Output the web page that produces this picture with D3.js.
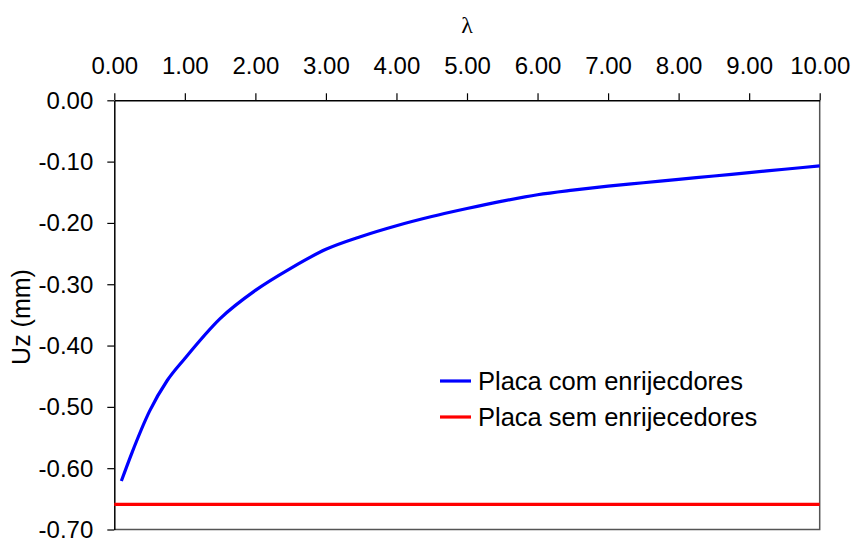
<!DOCTYPE html>
<html>
<head>
<meta charset="utf-8">
<script src="https://cdn.jsdelivr.net/npm/d3@7"></script>
<style>
  body { margin: 0; background: #fff; }
  svg text { font-family: "Liberation Sans", Arial, sans-serif; fill: #000; }
</style>
</head>
<body>
<div id="app"></div>
<script>
// dados
const lambdaVals = [0.1, 0.25, 0.5, 0.75, 1.0, 1.5, 2.0, 2.5, 3.0, 3.5, 4.0, 4.5, 5.0, 5.5, 6.0, 6.5, 7.0, 7.5, 8.0, 8.5, 9.0, 9.5, 10.0];
const uzCom = [-0.621, -0.575, -0.507, -0.457, -0.421, -0.356, -0.310, -0.274, -0.243, -0.222, -0.2045, -0.1895, -0.1765, -0.1645, -0.154, -0.1465, -0.140, -0.1345, -0.129, -0.1235, -0.118, -0.1125, -0.107];
const lambdaSem = [0, 10];
const uzSem = [-0.659, -0.659];
const xTicks = [0, 1, 2, 3, 4, 5, 6, 7, 8, 9, 10];
const yTicks = [0, -0.1, -0.2, -0.3, -0.4, -0.5, -0.6, -0.7];
const seriesNames = ["Placa com enrijecdores", "Placa sem enrijecedores"];
const seriesColors = ["#0000ff", "#ff0000"];

const width = 851, height = 539;
const margin = { top: 100.3, right: 31.3, bottom: 9.5, left: 114.3 };

const svg = d3.select("#app").append("svg")
    .attr("width", width)
    .attr("height", height);

const x = d3.scaleLinear().domain([0, 10]).range([margin.left, width - margin.right]);
const y = d3.scaleLinear().domain([-0.7, 0]).range([height - margin.bottom, margin.top]);

// borda direita e inferior (cinza)
svg.append("path")
    .attr("d", `M${x(10)},${y(0)}V${y(-0.7)}H${x(0)}`)
    .attr("fill", "none")
    .attr("stroke", "#555")
    .attr("stroke-width", 1.5);

// eixo x no topo
const xAxis = svg.append("g")
    .attr("transform", `translate(0,${y(0)})`)
    .call(d3.axisTop(x).tickValues(xTicks).tickFormat(d => d.toFixed(2))
        .tickSize(7).tickSizeOuter(0).tickPadding(19));

// eixo y
const yAxis = svg.append("g")
    .attr("transform", `translate(${x(0)},0)`)
    .call(d3.axisLeft(y).tickValues(yTicks).tickFormat(d => d.toFixed(2))
        .tickSize(7).tickSizeOuter(0).tickPadding(14));

[xAxis, yAxis].forEach(g => {
    g.select(".domain").attr("stroke", "#000").attr("stroke-width", 1.5);
    g.selectAll(".tick line").attr("stroke", "#000").attr("stroke-width", 1.2);
    g.selectAll(".tick text")
        .style("font-family", '"Liberation Sans", Arial, sans-serif')
        .style("font-size", "24px")
        .attr("fill", "#000");
});
xAxis.selectAll(".tick text").attr("dy", "0em");
yAxis.selectAll(".tick text").attr("dy", "0.33em");

// títulos dos eixos
svg.append("text")
    .attr("x", x(5))
    .attr("y", 33)
    .attr("text-anchor", "middle")
    .style("font-family", '"Liberation Serif", "DejaVu Serif", serif')
    .style("font-size", "24px")
    .text("λ");

svg.append("text")
    .attr("transform", `translate(30,317) rotate(-90)`)
    .attr("text-anchor", "middle")
    .style("font-size", "25px")
    .text("Uz (mm)");

// linhas das séries
const line = d3.line().x(d => x(d[0])).y(d => y(d[1])).curve(d3.curveMonotoneX);

svg.append("path")
    .datum(lambdaSem.map((l, i) => [l, uzSem[i]]))
    .attr("d", line)
    .attr("fill", "none")
    .attr("stroke", seriesColors[1])
    .attr("stroke-width", 3.2);

svg.append("path")
    .datum(lambdaVals.map((l, i) => [l, uzCom[i]]))
    .attr("d", line)
    .attr("fill", "none")
    .attr("stroke", seriesColors[0])
    .attr("stroke-width", 3.2)
    .attr("stroke-linejoin", "round");

// legenda
const legend = svg.append("g").attr("transform", "translate(440,381)");
seriesNames.forEach((name, i) => {
    const g = legend.append("g").attr("transform", `translate(0,${i * 36})`);
    g.append("line")
        .attr("x1", 0).attr("x2", 31)
        .attr("stroke", seriesColors[i])
        .attr("stroke-width", 3.2);
    g.append("text")
        .attr("x", 38)
        .attr("dy", "0.35em")
        .style("font-size", "25.5px")
        .text(name);
});
</script>
</body>
</html>
